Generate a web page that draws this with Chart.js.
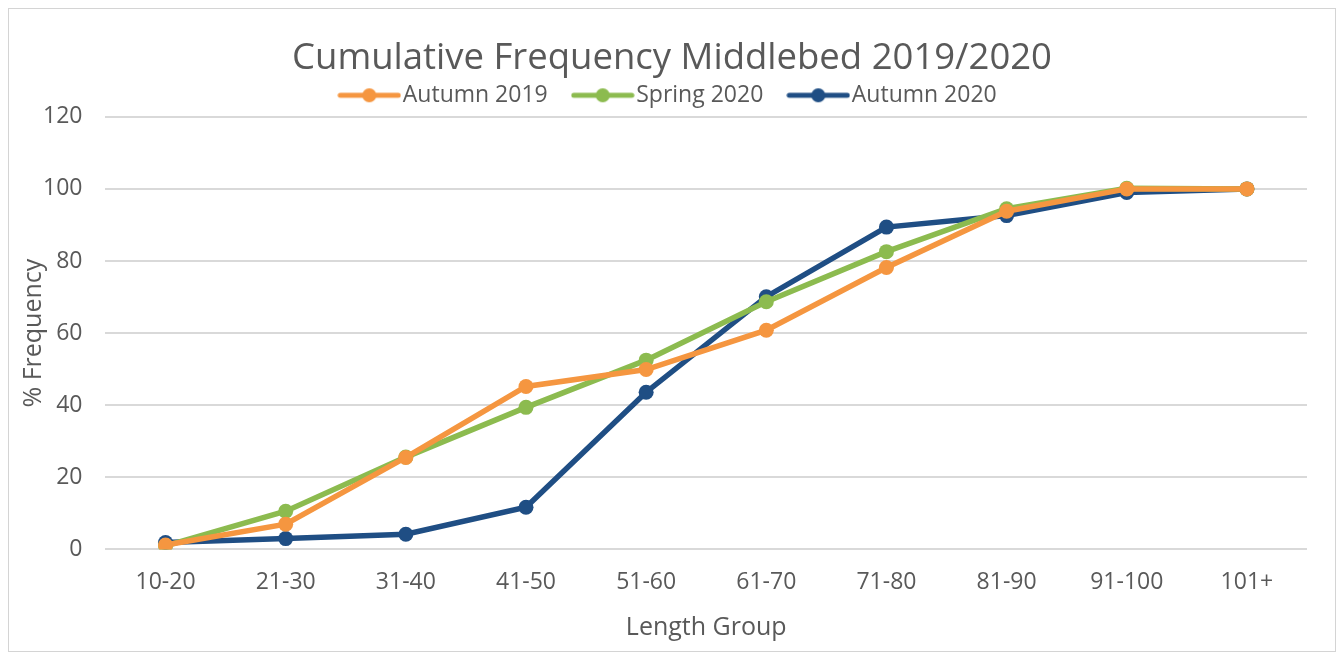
<!DOCTYPE html>
<html>
<head>
<meta charset="utf-8">
<script src="https://cdn.jsdelivr.net/npm/chart.js@4.4.0/dist/chart.umd.min.js"></script>
<style>
  body { margin: 0; background: #fff; }
  #wrap { position: absolute; left: 8px; top: 8px; width: 1326px; height: 642px; border: 1px solid #d4d4d4; }
</style>
</head>
<body>
<div id="wrap"><canvas id="freqChart"></canvas></div>
<script>
const lengthGroups = ['10-20', '21-30', '31-40', '41-50', '51-60', '61-70', '71-80', '81-90', '91-100', '101+'];
const autumn2019 = [1.2, 7, 25.5, 45.2, 49.9, 60.8, 78.2, 93.8, 100, 100];
const spring2020 = [1.0, 10.6, 25.6, 39.4, 52.5, 68.7, 82.6, 94.5, 100.2, 100];
const autumn2020 = [1.9, 3.0, 4.2, 11.7, 43.6, 70.1, 89.4, 92.6, 99.0, 100];
const yTicks = [0, 20, 40, 60, 80, 100, 120];

const textColor = '#595959';
const font = "'Open Sans', sans-serif";

// little line + dot swatch, like the spreadsheet legend
function legendIcon(color) {
  const c = document.createElement('canvas');
  c.width = 64;
  c.height = 16;
  const g = c.getContext('2d');
  g.strokeStyle = color;
  g.lineWidth = 5;
  g.lineCap = 'round';
  g.beginPath();
  g.moveTo(3, 8);
  g.lineTo(61, 8);
  g.stroke();
  g.fillStyle = color;
  g.beginPath();
  g.arc(32, 8, 7, 0, Math.PI * 2);
  g.fill();
  return c;
}

function series(label, data, color) {
  return {
    label: label,
    data: data,
    borderColor: color,
    backgroundColor: color,
    borderWidth: 5.5,
    pointRadius: 7.5,
    pointHoverRadius: 7.5,
    pointBorderWidth: 0,
    tension: 0,
    icon: legendIcon(color)
  };
}

const ctx = document.getElementById('freqChart').getContext('2d');
new Chart(ctx, {
  type: 'line',
  data: {
    labels: lengthGroups,
    datasets: [
      series('Autumn 2019', autumn2019, '#f59640'),
      series('Spring 2020', spring2020, '#8cbb4f'),
      series('Autumn 2020', autumn2020, '#1f4e84')
    ]
  },
  options: {
    responsive: true,
    maintainAspectRatio: false,
    animation: false,
    layout: { padding: { left: 6, right: 6, top: 28, bottom: 4 } },
    plugins: {
      title: {
        display: true,
        text: 'Cumulative Frequency Middlebed 2019/2020',
        color: textColor,
        font: { family: font, size: 36.5, weight: 'normal' },
        padding: { top: 0, bottom: -30 }
      },
      legend: {
        position: 'top',
        labels: {
          color: textColor,
          font: { family: font, size: 23 },
          usePointStyle: true,
          pointStyleWidth: 44,
          padding: 33,
          boxHeight: 16,
          generateLabels: function (chart) {
            return chart.data.datasets.map(function (ds, i) {
              return {
                text: ds.label,
                fontColor: textColor,
                pointStyle: ds.icon,
                strokeStyle: ds.borderColor,
                fillStyle: ds.backgroundColor,
                lineWidth: 0,
                datasetIndex: i,
                hidden: false
              };
            });
          }
        }
      },
      tooltip: { enabled: false }
    },
    scales: {
      x: {
        offset: true,
        grid: { display: false },
        border: { display: false },
        ticks: { color: textColor, font: { family: font, size: 23 }, padding: 11 },
        title: {
          display: true,
          text: 'Length Group',
          color: textColor,
          font: { family: font, size: 25 },
          padding: { top: 6 }
        },
        afterFit: function (axis) {
          axis.paddingRight = 28;
        }
      },
      y: {
        min: 0,
        max: 120,
        afterBuildTicks: function (axis) {
          axis.ticks = yTicks.map(function (v) { return { value: v }; });
        },
        grid: { color: '#d9d9d9', lineWidth: 2, drawTicks: false },
        border: { display: false },
        ticks: { color: textColor, font: { family: font, size: 23 }, padding: 23 },
        title: {
          display: true,
          text: '% Frequency',
          color: textColor,
          font: { family: font, size: 25 },
          padding: { top: 4, bottom: -29 }
        }
      }
    }
  }
});
</script>
</body>
</html>
